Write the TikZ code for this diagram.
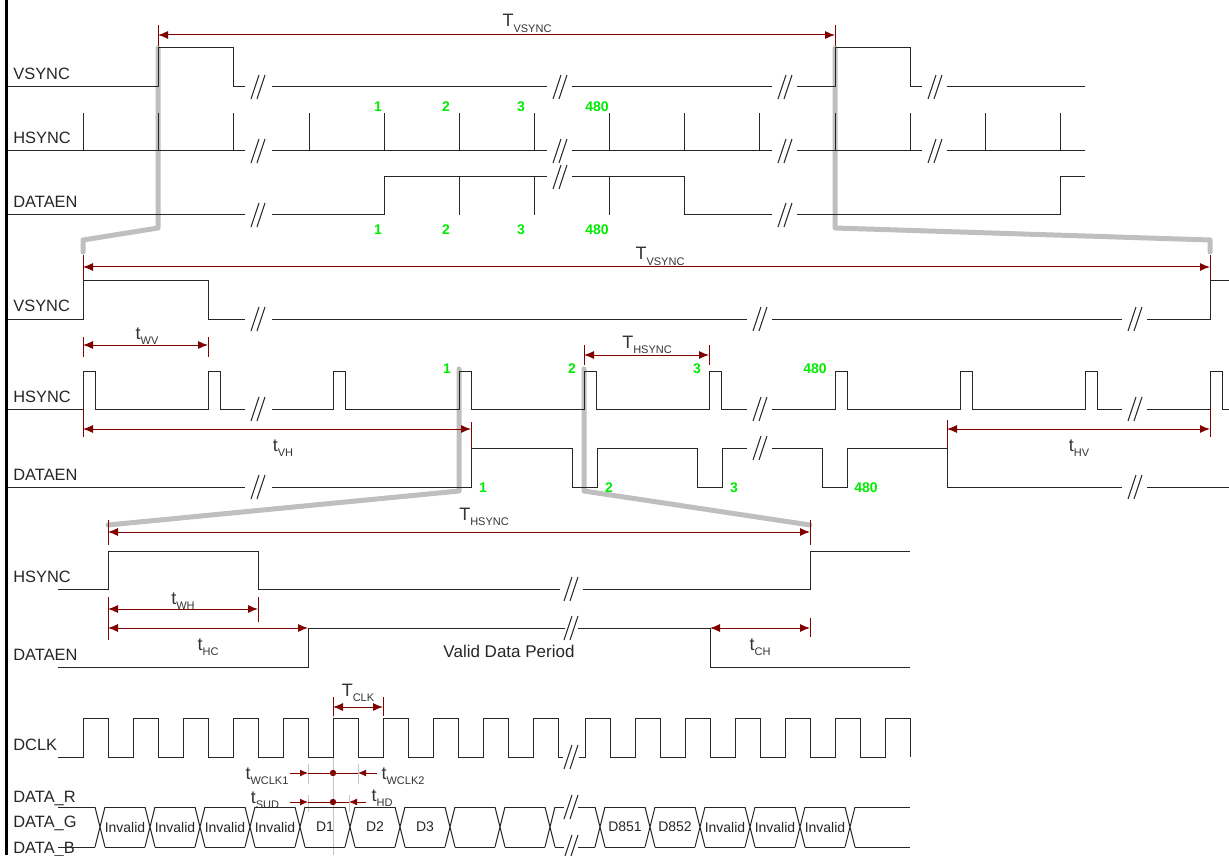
\documentclass[tikz,border=0pt]{standalone}
\usepackage{fontspec}
\setmainfont{Liberation Sans}
\usetikzlibrary{arrows.meta}
\definecolor{dimred}{RGB}{128,0,0}
\definecolor{numgreen}{RGB}{0,235,0}
\newcommand{\tsb}[2]{#1\raisebox{-0.6ex}{\fontsize{5.5}{6}\selectfont #2}}

\begin{document}
\begin{tikzpicture}[x=0.5pt, y=-0.5pt,
sig/.style={draw=black!85, line width=0.5pt},
dimline/.style={draw=dimred, line width=0.5pt, {Latex[length=5pt,width=4pt]}-{Latex[length=5pt,width=4pt]}},
dimtick/.style={draw=dimred, line width=0.5pt},
halfdim/.style={draw=dimred, line width=0.5pt, -{Latex[length=4pt,width=3.5pt]}},
zoomline/.style={draw=gray!50, line width=2.5pt, line join=round, line cap=round},
guide/.style={draw=gray!45, line width=0.4pt},
sname/.style={anchor=base west, inner sep=0pt, text=black!85, font=\fontsize{8.2}{10}\selectfont},
tname/.style={anchor=base, inner sep=0pt, text=black!80, font=\fontsize{9}{10}\selectfont},
num/.style={anchor=base, inner sep=0pt, text=numgreen, font=\fontsize{7}{8}\selectfont\bfseries},
cell/.style={inner sep=0pt, text=black!85, font=\fontsize{7}{8}\selectfont},
brkmark/.pic={\draw[sig] (-7,12) -- (1,-12) (-1,12) -- (7,-12);},
]
\useasboundingbox (0,0) rectangle (1229,855);

%Zoom lines
\draw[zoomline] (158,48) -- (158,228) -- (83,240) -- (83,252);
\draw[zoomline] (835,48) -- (835,228) -- (1210,240) -- (1210,252);
\draw[zoomline] (459,369) -- (459,491) -- (108,525);
\draw[zoomline] (584,369) -- (584,491) -- (810,525);
\draw[line width=1.5pt] (6.5,0) -- (6.5,855);

%Signal names
\node[sname] (vs1) at (13,80) {VSYNC};
\node[sname] (hs1) at (13,144) {HSYNC};
\node[sname] (de1) at (13,208) {DATAEN};
\node[sname] (vs2) at (13,312) {VSYNC};
\node[sname] (hs2) at (13,402) {HSYNC};
\node[sname] (de2) at (13,480) {DATAEN};
\node[sname] (hs3) at (13,582) {HSYNC};
\node[sname] (de3) at (13,660) {DATAEN};
\node[sname] (dclk) at (13,750) {DCLK};
\node[sname] (dr) at (13,802) {DATA\_R};
\node[sname] (dg) at (13,827) {DATA\_G};
\node[sname] (db) at (13,853) {DATA\_B};

%Frame level
\draw[sig] (8,87) -- (158,87) -- (158,48) -- (233,48) -- (233,87) -- (245,87) (272,87) -- (547,87) (572,87) -- (772,87)
  (797,87) -- (835,87) -- (835,48) -- (910,48) -- (910,87) -- (922,87) (947,87) -- (1085,87);
\draw[sig] (8,151) -- (245,151) (272,151) -- (547,151) (572,151) -- (772,151) (797,151) -- (922,151) (947,151) -- (1085,151);
\foreach \x in {83,158,233,309,384,459,534,609,684,759,835,910,985,1060}
  \draw[sig] (\x,151) -- (\x,113);
\draw[sig] (8,215) -- (245,215) (272,215) -- (384,215) -- (384,177) -- (547,177) (572,177) -- (684,177) -- (684,215) -- (772,215)
  (797,215) -- (1060,215) -- (1060,177) -- (1085,177);
\foreach \x in {459,534,609}
  \draw[sig] (\x,177) -- (\x,215);
\foreach \x/\t [count=\i] in {378/1,446/2,521/3,597/480} {
  \node[num] (hn\i) at (\x,112) {\t};
  \node[num] (dn\i) at (\x,235) {\t};
}
\draw[dimtick] (158,25) -- (158,46) (835,25) -- (835,46);
\draw[dimline] (158,35) -- (835,35);
\node[tname] (tvs1) at (527,27) {\tsb{T}{VSYNC}};

%Line level
\draw[sig] (8,319) -- (83,319) -- (83,281) -- (208,281) -- (208,319) -- (245,319) (272,319) -- (747,319) (772,319) -- (1122,319)
  (1147,319) -- (1210,319) -- (1210,281) -- (1229,281);
\draw[sig] (8,409) foreach \x in {83,208} {-- (\x,409) -- (\x,371) -- (\x+12,371) -- (\x+12,409)} -- (245,409);
\draw[sig] (272,409) foreach \x in {333,459,584,709} {-- (\x,409) -- (\x,371) -- (\x+12,371) -- (\x+12,409)} -- (747,409);
\draw[sig] (772,409) foreach \x in {835,960,1085} {-- (\x,409) -- (\x,371) -- (\x+12,371) -- (\x+12,409)} -- (1122,409);
\draw[sig] (1147,409) -- (1210,409) -- (1210,371) -- (1222,371) -- (1222,409) -- (1229,409);
\draw[sig] (8,487) -- (245,487) (272,487) -- (471,487) -- (471,448) -- (572,448) -- (572,487) -- (597,487) -- (597,448) -- (697,448)
  -- (697,487) -- (722,487) -- (722,448) -- (747,448) (772,448) -- (822,448) -- (822,487) -- (847,487) -- (847,448) -- (947,448)
  -- (947,487) -- (1122,487) (1147,487) -- (1229,487);
\foreach \x/\t [count=\i] in {447/1,572/2,697/3,815/480}
  \node[num] (hl\i) at (\x,373) {\t};
\foreach \x/\t [count=\i] in {483/1,609/2,734/3,866/480}
  \node[num] (dl\i) at (\x,492) {\t};
\draw[dimtick] (83,255) -- (83,281) (1210,255) -- (1210,281);
\draw[dimline] (83,267) -- (1210,267);
\node[tname] (tvs2) at (660,260) {\tsb{T}{VSYNC}};
\draw[dimtick] (83,337) -- (83,357) (208,337) -- (208,357);
\draw[dimline] (83,345) -- (208,345);
\node[tname] (twv) at (147,339) {\tsb{t}{WV}};
\draw[dimtick] (584,345) -- (584,365) (709,345) -- (709,365);
\draw[dimline] (584,355) -- (709,355);
\node[tname] (ths2) at (647,348) {\tsb{T}{HSYNC}};
\draw[dimtick] (83,409) -- (83,437) (471,422) -- (471,448);
\draw[dimline] (83,429) -- (471,429);
\node[tname] (tvh) at (283,451) {\tsb{t}{VH}};
\draw[dimtick] (947,420) -- (947,448) (1210,409) -- (1210,437);
\draw[dimline] (947,429) -- (1210,429);
\node[tname] (thv) at (1079,451) {\tsb{t}{HV}};

%Pixel level
\draw[sig] (58,589) -- (108,589) -- (108,551) -- (258,551) -- (258,589) -- (560,589) (583,589) -- (810,589) -- (810,551) -- (910,551);
\draw[sig] (58,667) -- (308,667) -- (308,628) -- (565,628) (578,628) -- (710,628) -- (710,667) -- (910,667);
\draw[dimtick] (108,520) -- (108,545) (810,520) -- (810,545);
\draw[dimline] (108,532) -- (810,532);
\node[tname] (ths3) at (484,520) {\tsb{T}{HSYNC}};
\draw[dimtick] (108,597) -- (108,640) (258,597) -- (258,622);
\draw[dimline] (108,609) -- (258,609);
\node[tname] (twh) at (183,604) {\tsb{t}{WH}};
\draw[dimline] (108,628) -- (308,628);
\node[tname] (thc) at (208,650) {\tsb{t}{HC}};
\draw[dimtick] (810,618) -- (810,637);
\draw[dimline] (710,628) -- (810,628);
\node[tname] (tch) at (760,650) {\tsb{t}{CH}};
\node[anchor=base, inner sep=0pt, text=black!85, font=\fontsize{8.5}{10}\selectfont] (valid) at (509,657) {Valid Data Period};

%Clock and data
\draw[guide] (333,700) -- (333,855);
\draw[sig] (58,757) foreach \x in {83,133,...,533} {-- (\x,757) -- (\x,718) -- (\x+25,718) -- (\x+25,757)} -- (563,757);
\draw[sig] (579,757) foreach \x in {585,635,...,885} {-- (\x,757) -- (\x,718) -- (\x+25,718) -- (\x+25,757)};
\draw[dimtick] (333,697) -- (333,716) (383,697) -- (383,716);
\draw[dimline] (333,707) -- (383,707);
\node[tname] (tclk) at (358,696) {\tsb{T}{CLK}};

\draw[guide] (308,764) -- (308,784) (358,764) -- (358,784) (308,795) -- (308,812) (349,795) -- (349,812);
\draw[halfdim] (290,773) -- (308,773);
\draw[dimtick] (308,773) -- (358,773);
\draw[halfdim] (377,773) -- (358,773);
\fill[dimred] (333,773) circle (1.6pt);
\node[tname] (twc1) at (267,779) {\tsb{t}{WCLK1}};
\node[tname] (twc2) at (403,779) {\tsb{t}{WCLK2}};
\draw[halfdim] (290,802) -- (308,802);
\draw[dimtick] (308,802) -- (349,802);
\draw[halfdim] (366,802) -- (349,802);
\fill[dimred] (333,802) circle (1.6pt);
\node[tname] (tsud) at (265,803) {\tsb{t}{SUD}};
\node[tname] (thd) at (382,801) {\tsb{t}{HD}};

\draw[sig] (58,807) -- (95,807) (58,847) -- (95,847);
\foreach \x in {100,150,...,850}
  \draw[sig] (\x-5,807) -- (\x+5,847) (\x-5,847) -- (\x+5,807);
\foreach \x in {100,150,...,500}
  \draw[sig] (\x+5,807) -- (\x+45,807) (\x+5,847) -- (\x+45,847);
\foreach \x in {600,650,...,800}
  \draw[sig] (\x+5,807) -- (\x+45,807) (\x+5,847) -- (\x+45,847);
\draw[sig] (555,807) -- (564,807) (578,807) -- (595,807) (555,847) -- (564,847) (578,847) -- (595,847);
\draw[sig] (855,807) -- (910,807) (855,847) -- (910,847);
\foreach \x/\t [count=\i] in {125/Invalid,175/Invalid,225/Invalid,275/Invalid,325/D1,375/D2,425/D3,
  625/D851,675/D852,725/Invalid,775/Invalid,825/Invalid}
  \node[cell] (c\i) at (\x,827) {\t};

%Breaks
\foreach \bx/\by in {258/87,560/87,785/87,935/87,258/151,560/151,785/151,935/151,258/215,560/177,785/215,
  258/319,760/319,1135/319,258/409,760/409,1135/409,258/487,760/448,1135/487,
  571/589,571/628,571/757,571/807,571/847}
  \pic at (\bx,\by) {brkmark};
\end{tikzpicture}
\end{document}
